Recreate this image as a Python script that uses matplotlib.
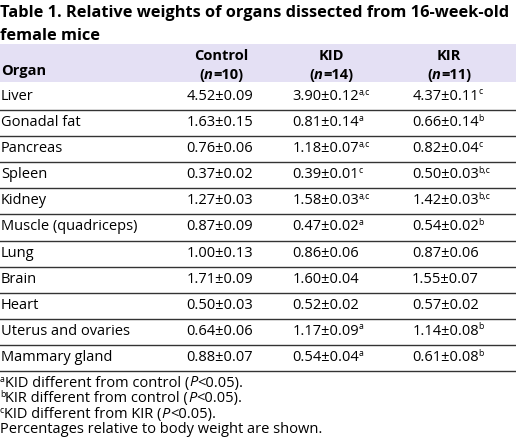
import matplotlib
matplotlib.use("Agg")
import matplotlib.pyplot as plt

plt.rcParams["font.family"] = ["Open Sans", "DejaVu Sans"]

title_lines = ["Table 1. Relative weights of organs dissected from 16-week-old",
               "female mice"]
groups = ["Control", "KID", "KIR"]
group_n = ["10", "14", "11"]
organs = ["Liver", "Gonadal fat", "Pancreas", "Spleen", "Kidney",
          "Muscle (quadriceps)", "Lung", "Brain", "Heart",
          "Uterus and ovaries", "Mammary gland"]
control = ["4.52±0.09", "1.63±0.15", "0.76±0.06", "0.37±0.02", "1.27±0.03",
           "0.87±0.09", "1.00±0.13", "1.71±0.09", "0.50±0.03", "0.64±0.06",
           "0.88±0.07"]
kid = ["3.90±0.12", "0.81±0.14", "1.18±0.07", "0.39±0.01", "1.58±0.03",
       "0.47±0.02", "0.86±0.06", "1.60±0.04", "0.52±0.02", "1.17±0.09",
       "0.54±0.04"]
kid_sup = ["a,c", "a", "a,c", "c", "a,c", "a", "", "", "", "a", "a"]
kir = ["4.37±0.11", "0.66±0.14", "0.82±0.04", "0.50±0.03", "1.42±0.03",
       "0.54±0.02", "0.87±0.06", "1.55±0.07", "0.57±0.02", "1.14±0.08",
       "0.61±0.08"]
kir_sup = ["c", "b", "c", "b,c", "b,c", "b", "", "", "", "b", "b"]
footnotes = [("a", "KID different from control (", ")."),
             ("b", "KIR different from control (", ")."),
             ("c", "KID different from KIR (", ").")]
last_note = "Percentages relative to body weight are shown."

W, H = 516, 438
fig = plt.figure(figsize=(W / 100, H / 100), dpi=100)
ax = fig.add_axes([0, 0, 1, 1])
ax.set_xlim(0, W)
ax.set_ylim(H, 0)
ax.axis("off")
renderer = fig.canvas.get_renderer()

fs = 10.5
col_right = [253, 359, 479]
col_center = [221, 331, 449]


def width(t):
    return t.get_window_extent(renderer).width


def runs(x, y, parts, size, ha="left", weight="normal"):
    # parts: (text, style) with style "n", "i" or "sup"
    objs = []
    for s, st in parts:
        if st == "sup":
            t = ax.text(0, y - 4, s, fontsize=size * 0.6, va="center",
                        weight=weight)
        else:
            t = ax.text(0, y, s, fontsize=size, va="center", weight=weight,
                        style="italic" if st == "i" else "normal")
        objs.append(t)
    ws = [width(t) for t in objs]
    total = sum(ws)
    x0 = x - total / 2 if ha == "center" else x
    for t, w in zip(objs, ws):
        t.set_x(x0)
        x0 += w


# title
ax.text(0, 13, title_lines[0], fontsize=11.8, weight="bold", va="center")
ax.text(0, 36, title_lines[1], fontsize=11.8, weight="bold", va="center")

# header band
ax.add_patch(plt.Rectangle((0, 44), W, 38, color="#e4e0f4", lw=0))
ax.text(1, 71, "Organ", fontsize=fs, weight="bold", va="center")
for g, n, xc in zip(groups, group_n, col_center):
    ax.text(xc, 56, g, fontsize=fs, weight="bold", va="center", ha="center")
    runs(xc, 75, [("(", "n"), ("n", "i"), ("=" + n + ")", "n")], fs,
         ha="center", weight="bold")

# rows
y0, pitch = 96.5, 26.1
for i, org in enumerate(organs):
    y = y0 + i * pitch
    ax.text(1, y, org, fontsize=fs, va="center")
    for vals, sups, xr in zip([control, kid, kir], [None, kid_sup, kir_sup],
                              col_right):
        ax.text(xr, y, vals[i], fontsize=fs, va="center", ha="right")
        if sups and sups[i]:
            ax.text(xr - 0.5, y - 4.5, sups[i], fontsize=fs * 0.6,
                    va="center")
    ax.plot([0, W], [y + 13.5, y + 13.5], color="#333333", lw=1.0)

# footnotes
fy = 383
for i, (s, a, b) in enumerate(footnotes):
    runs(0, fy + i * 15.6, [(s, "sup"), (a, "n"), ("P", "i"),
                             ("<0.05" + b, "n")], fs)
ax.text(0, fy + 3 * 15.6, last_note, fontsize=fs, va="center")

fig.savefig("out.png", dpi=100)
